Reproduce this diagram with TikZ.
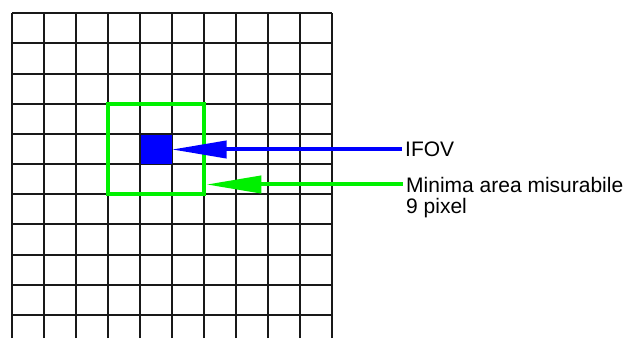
\documentclass[tikz,border=0pt]{standalone}
\usepackage{fontspec}
\setmainfont{Liberation Sans}
\usetikzlibrary{arrows.meta}
\definecolor{ifovblue}{RGB}{0,0,255}
\definecolor{areagreen}{RGB}{0,240,0}
\tikzset{
  gridline/.style={black!90,line width=2pt},
  labeltext/.style={inner xsep=3pt,inner ysep=0pt,font=\fontsize{21}{25}\selectfont},
  pointer/.style={line width=4pt,-{Triangle[length=55pt,width=17pt]}}
}
\begin{document}
\begin{tikzpicture}[x=1pt,y=1pt]
\useasboundingbox (0,0) rectangle (630,338);
% pixel grid
\foreach \i in {0,...,10} {
  \draw[gridline] (12.3+32*\i,0) -- (12.3+32*\i,324.7);
  \draw[gridline] (12.3,324.7-30.17*\i) -- (332.3,324.7-30.17*\i);
}
% 3x3 area and single pixel
\node[draw=areagreen,line width=4pt,minimum width=96pt,minimum height=90.5pt,inner sep=0pt] (minarea) at (156.3,188.95) {};
\node[fill=ifovblue,minimum width=30.5pt,minimum height=29.5pt,inner sep=0pt] (ifovpix) at (156.25,188.25) {};
% labels
\node[labeltext,anchor=west] (ifovlbl) at (402,188.5) {IFOV};
\node[labeltext,anchor=west] (minlbl) at (403,153.5) {Minima area misurabile};
\node[labeltext,anchor=base west] (pixlbl) at ([yshift=-21pt]minlbl.base west) {9 pixel};
% pointers
\draw[pointer,ifovblue] (ifovlbl.west) -- (ifovlbl.west -| ifovpix.east);
\draw[pointer,areagreen] (minlbl.west) -- (minlbl.west -| minarea.east);
\end{tikzpicture}
\end{document}
